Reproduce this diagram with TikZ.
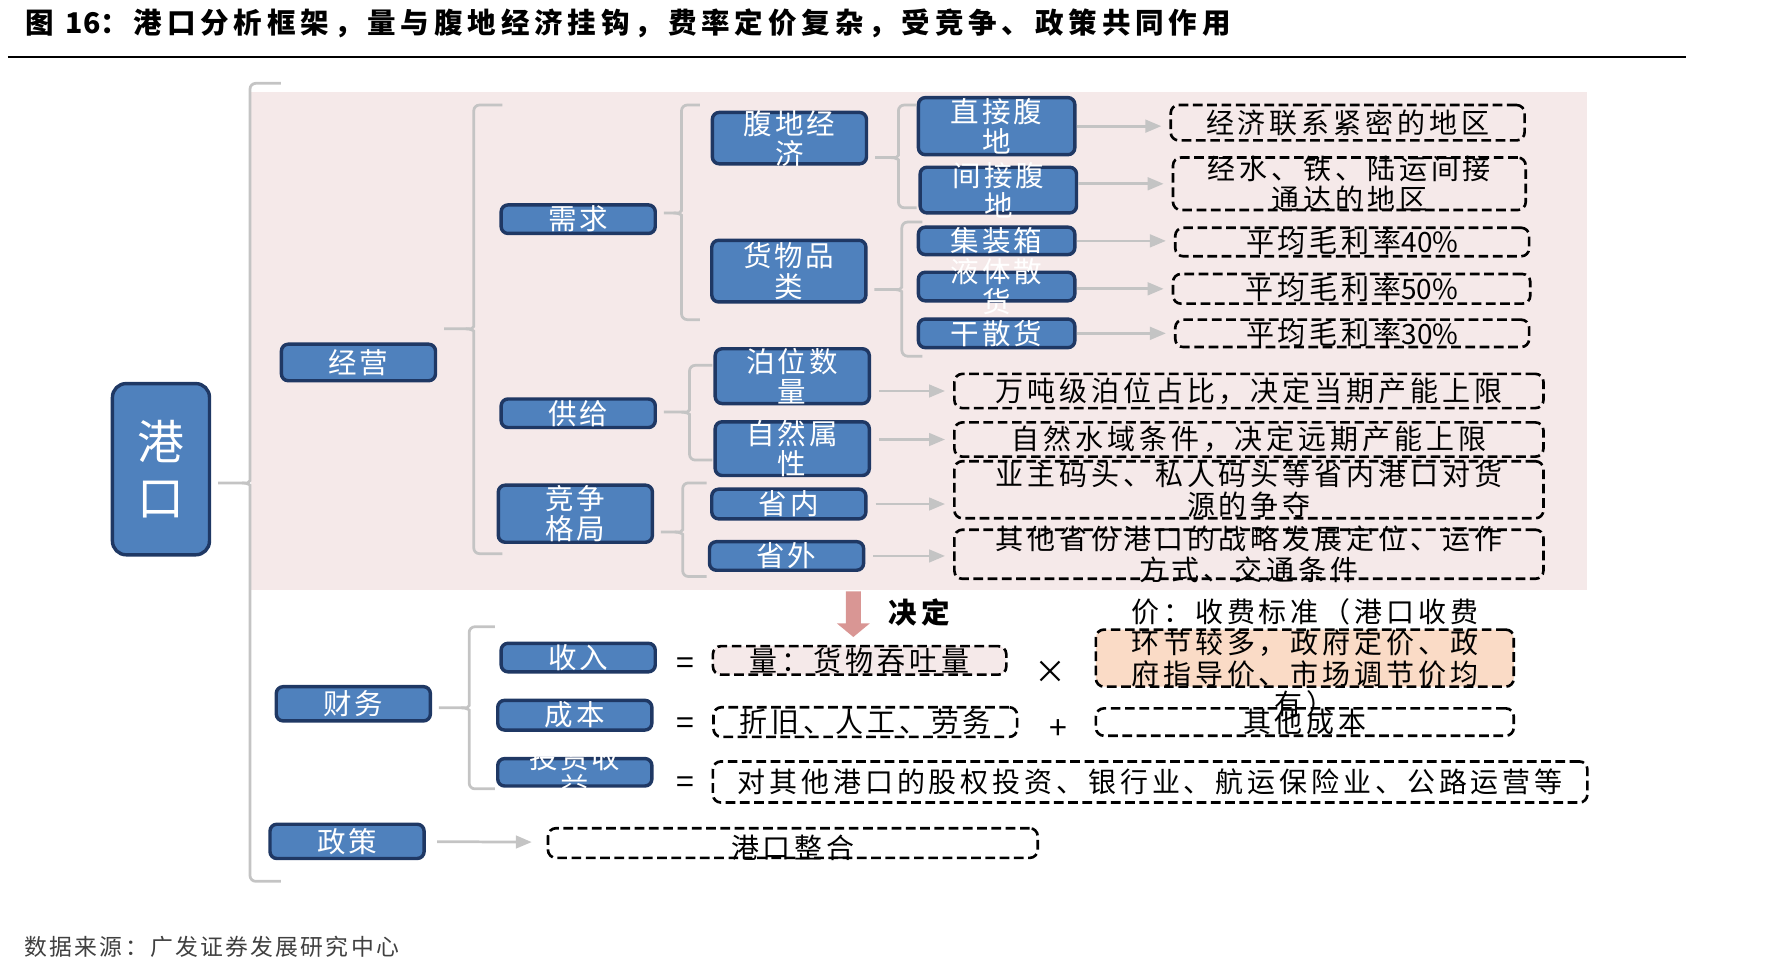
\documentclass[tikz,border=0pt]{standalone}
\usepackage{fontspec}
\setmainfont{Noto Sans CJK SC}
\newfontfamily\ttlfont[LetterSpace=17]{Noto Sans CJK SC}
\newfontfamily\boxfont[LetterSpace=10]{Noto Sans CJK SC}
\newfontfamily\dshfont[LetterSpace=14]{Noto Sans CJK SC}
\newfontfamily\srcfont[LetterSpace=10]{Noto Sans CJK SC}
\newcommand{\tight}[1]{{\addfontfeature{LetterSpace=0}#1}}
\usetikzlibrary{arrows.meta}
\definecolor{boxblue}{HTML}{4F81BD}
\definecolor{boxline}{HTML}{1F3864}
\definecolor{lgrey}{HTML}{C4C4C4}
\definecolor{bgpink}{HTML}{F5E9E9}
\definecolor{peach}{HTML}{FADBC6}
\definecolor{arrowpink}{HTML}{D99694}
\tikzset{bshape/.style={rectangle,draw=boxline,fill=boxblue,line width=3pt,rounded corners=6pt,inner sep=0pt,minimum width=135pt},
bbox/.style={bshape,label={[btxt]center:#1}},
btxt/.style={text=white,font=\boxfont\fontsize{25}{26.5}\selectfont,align=center},
dshape/.style={rectangle,draw,dash pattern=on 8.5pt off 4pt,line width=2.3pt,rounded corners=7pt,inner sep=0pt},
dbox/.style={dshape,label={[dtxt]center:#1}},
dtxt/.style={font=\dshfont\fontsize{24.5}{27}\selectfont,align=center},
brace/.style={draw=lgrey,line width=2.4pt,rounded corners=5pt},
line/.style={draw=lgrey,line width=2.4pt,-{Triangle[length=14pt,width=11pt]}},
sign/.style={font=\fontsize{28}{28}\selectfont}}
% group brace: parent, spine x, top, bottom, nub y, hook x
\newcommand{\grpbrace}[6]{%
  \draw[brace] (#1.east |- 0,#5) ++(6,0) -- (#2-7,#5) .. controls (#2-2,#5) and (#2,#5-2) .. (#2,#5-7) -- (#2,#3) -- (#6,#3);
  \draw[brace] (#2-7,#5) .. controls (#2-2,#5) and (#2,#5+2) .. (#2,#5+7) -- (#2,#4) -- (#6,#4);}

\begin{document}
\begin{tikzpicture}[x=1pt,y=-1pt]
\useasboundingbox (0,0) rectangle (1568,854);
\fill[bgpink] (220,81) rectangle (1390,517);
\node[anchor=west,font=\ttlfont\bfseries\fontsize{25}{25}\selectfont] (title) at (19,20) {图 \tight{16}：港口分析框架，量与腹地经济挂钩，费率定价复杂，受竞争、政策共同作用};
\draw[line width=1.8pt] (7,50) -- (1477,50);

% blue boxes
\node[bshape,minimum width=85pt,minimum height=150pt,rounded corners=12pt,text=white,align=center,font=\boxfont\fontsize{41}{48.5}\selectfont] (gk) at (141,411) {港\\口};
\node[bbox=经营,minimum height=32pt] (jy) at (314,317.5) {};
\node[bbox=财务,minimum height=30pt] (cw) at (309.5,616.5) {};
\node[bbox=政策,minimum height=30pt] (zc) at (304,737) {};
\node[bbox=需求,minimum height=25pt] (xq) at (506.5,192) {};
\node[bbox=供给,minimum height=25pt] (gj) at (506.5,362) {};
\node[bbox={竞争\\格局},minimum height=50pt] (jzgj) at (504,450) {};
\node[bbox={腹地经\\济},minimum height=45pt] (fdjj) at (691.5,121) {};
\node[bbox={货物品\\类},minimum height=54pt] (hwpl) at (691,237.5) {};
\node[bbox={泊位数\\量},minimum height=48pt] (bwsl) at (694,329.5) {};
\node[bbox={自然属\\性},minimum height=47pt] (zrsx) at (694,393) {};
\node[bbox=省内,minimum height=26pt] (sn) at (691,441.5) {};
\node[bbox=省外,minimum height=25pt] (sw) at (689,487) {};
\node[bbox={直接腹\\地},minimum width=137pt,minimum height=50pt] (zjfd) at (873,110.5) {};
\node[bbox={间接腹\\地},minimum width=137pt,minimum height=40pt] (jjfd) at (874.5,166.5) {};
\node[bbox=集装箱,minimum width=137pt,minimum height=24pt] (jzx) at (873,211) {};
\node[bbox={液体散\\货},minimum width=137pt,minimum height=25pt] (ytsh) at (873,251) {};
\node[bbox=干散货,minimum width=137pt,minimum height=25pt] (gsh) at (873,292) {};
\node[bbox=收入,minimum height=25pt] (sr) at (506.5,576) {};
\node[bbox=成本,minimum height=26pt] (cb) at (503.5,626.5) {};
\node[bbox={投资收\\益},minimum height=24pt] (tzsy) at (503.5,676.5) {};

% dashed boxes
\node[dbox=经济联系紧密的地区,minimum width=310pt,minimum height=31pt] (jjlx) at (1180.5,107.5) {};
\node[dbox={经水、铁、陆运间接\\通达的地区},minimum width=309pt,minimum height=46pt] (jsty) at (1182,161) {};
\node[dbox={平均毛利率\tight{40\%}},minimum width=310pt,minimum height=25pt] (ml40) at (1184.5,212) {};
\node[dbox={平均毛利率\tight{50\%}},minimum width=313pt,minimum height=26pt] (ml50) at (1184,253) {};
\node[dbox={平均毛利率\tight{30\%}},minimum width=310pt,minimum height=24pt] (ml30) at (1184.5,292) {};
\node[dbox={万吨级泊位占比，决定当期产能上限},minimum width=516pt,minimum height=30pt] (wdbw) at (1094,342.5) {};
\node[dbox={自然水域条件，决定远期产能上限},minimum width=516pt,minimum height=30pt] (zrsy) at (1094,385) {};
\node[dbox={业主码头、私人码头等省内港口对货\\源的争夺},minimum width=516pt,minimum height=50pt] (yzmt) at (1094,429) {};
\node[dbox={其他省份港口的战略发展定位、运作\\方式、交通条件},minimum width=516pt,minimum height=43pt] (qtsf) at (1094,485.5) {};
\node[dbox={量：货物吞吐量},fill=bgpink,minimum width=257pt,minimum height=25pt] (hl) at (753,578.5) {};
\node[dbox={价：收费标准（港口收费\\环节较多，政府定价、政\\府指导价、市场调节价均\\有）},fill=peach,minimum width=366pt,minimum height=50pt] (jia) at (1143,576.5) {};
\node[dbox={折旧、人工、劳务},minimum width=266pt,minimum height=26pt] (zjrg) at (758,632.5) {};
\node[dbox=其他成本,minimum width=366pt,minimum height=24pt] (qtcb) at (1143,632.5) {};
\node[dbox={对其他港口的股权投资、银行业、航运保险业、公路运营等},minimum width=766pt,minimum height=36pt] (dqt) at (1007.5,685) {};
\node[dshape,minimum width=429pt,minimum height=26pt,label={[dtxt,yshift=-4pt]center:港口整合}] (gkzh) at (694.5,738.5) {};

% signs
\node[sign] (eqa) at (600.5,583.5) {=};
\node[sign] (eqb) at (600.5,636) {=};
\node[sign] (eqc) at (600.5,687.5) {=};
\node[sign] (tms) at (920,589) {×};
\node[sign] (pls) at (927,639.5) {+};
\fill[arrowpink] (741,518) -- (754,518) -- (754,546) -- (762,546) -- (747.5,558) -- (733,546) -- (741,546) -- cycle;
\node[font=\ttlfont\bfseries\fontsize{25}{25}\selectfont] (jd) at (805,536.5) {决定};

% braces
\grpbrace{gk}{219}{73}{772}{423}{246}
\grpbrace{jy}{415}{92}{485}{288}{440}
\grpbrace{xq}{597}{92}{280}{186.5}{613}
\grpbrace{gj}{604}{320}{403}{361}{624}
\grpbrace{jzgj}{598}{423}{505}{466}{619}
\grpbrace{fdjj}{787}{92}{182}{138}{803}
\grpbrace{hwpl}{790}{194.5}{312}{253.5}{808}
\grpbrace{cw}{411}{549}{691}{620}{433.5}

% arrows
\draw[line,shorten >=7pt] (zjfd) -- (zjfd -| jjlx.west);
\draw[line,shorten >=7pt] (jjfd.east |- jsty) -- (jsty);
\draw[line,shorten >=7pt] (jzx) -- (jzx -| ml40.west);
\draw[line,shorten >=7pt] (ytsh.east |- ml50) -- (ml50);
\draw[line,shorten >=7pt] (gsh) -- (gsh -| ml30.west);
\draw[line,shorten <=7pt,shorten >=7pt] (bwsl.east |- wdbw) -- (wdbw);
\draw[line,shorten <=7pt,shorten >=7pt] (zrsx.east |- zrsy) -- (zrsy);
\draw[line,shorten <=7pt,shorten >=7pt] (sn) -- (sn -| yzmt.west);
\draw[line,shorten <=7pt,shorten >=7pt] (sw) -- (sw -| qtsf.west);
\draw[line,shorten <=10pt,shorten >=13pt] (zc) -- (gkzh);

\node[anchor=west,font=\srcfont\fontsize{20}{20}\selectfont,text=black!75] (src) at (18,829) {数据来源：广发证券发展研究中心};
\end{tikzpicture}
\end{document}
